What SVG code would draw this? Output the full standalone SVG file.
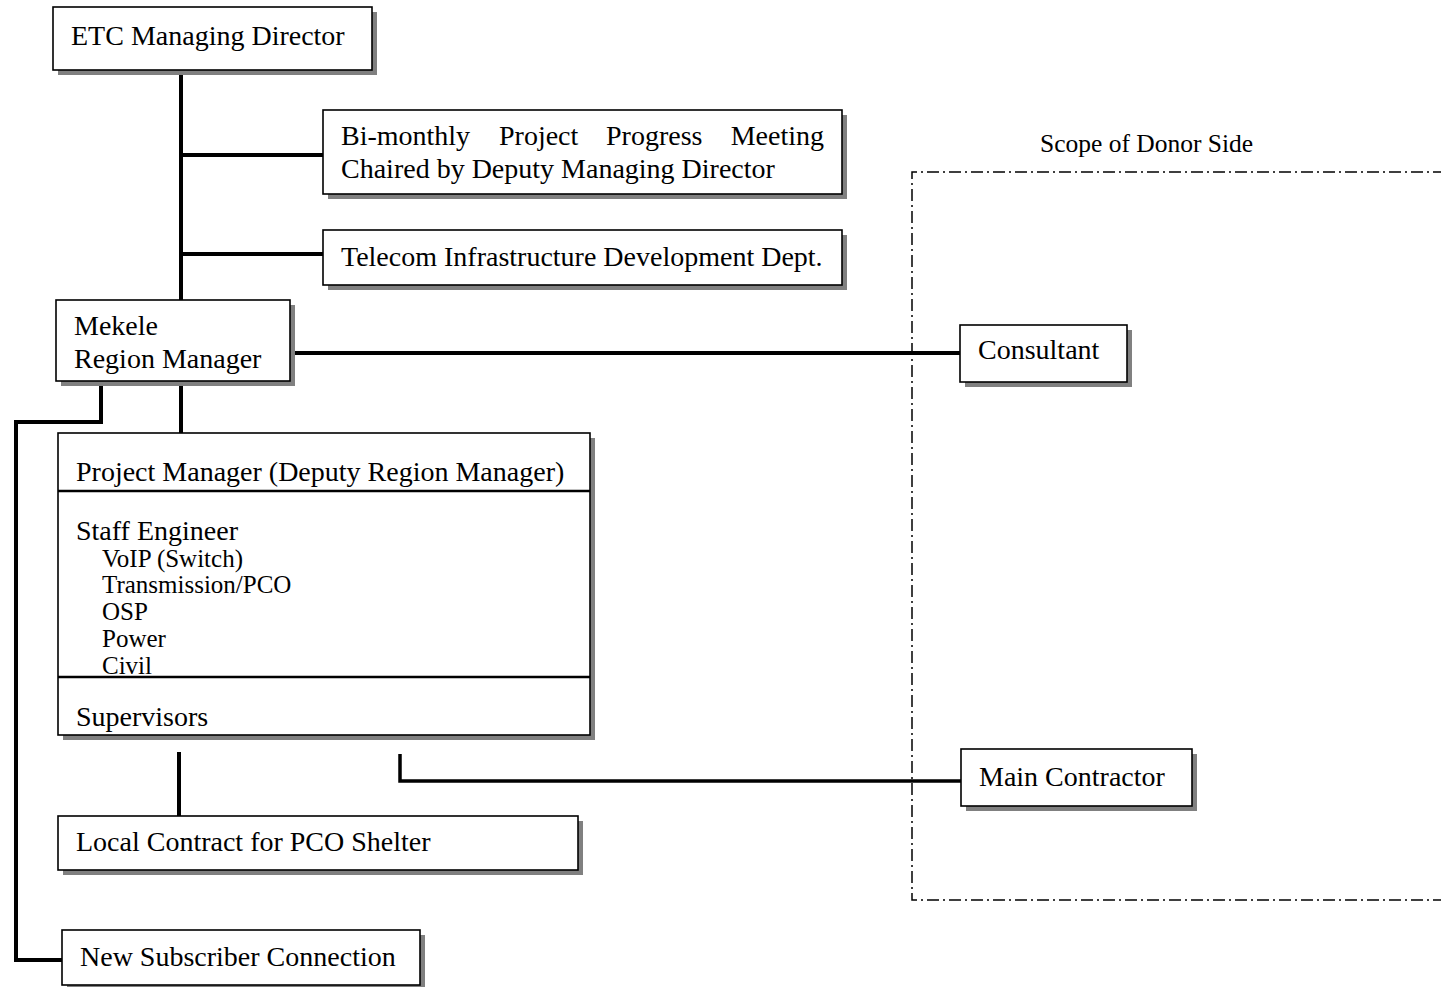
<svg xmlns="http://www.w3.org/2000/svg" width="1441" height="987" viewBox="0 0 1441 987">
  <style>
    .box { fill: #ffffff; stroke: #000000; stroke-width: 1.6; }
    .shadow { fill: #808080; }
    .txt { font-family: "Liberation Serif", "Times New Roman", serif; font-size: 28px; fill: #000000; }
    .sub { font-family: "Liberation Serif", "Times New Roman", serif; font-size: 25px; fill: #000000; }
    .cap { font-family: "Liberation Serif", "Times New Roman", serif; font-size: 25.5px; fill: #000000; }
    .link { fill: none; stroke: #000000; stroke-width: 4; }
    .scope { fill: none; stroke: #000000; stroke-width: 1.5; stroke-dasharray: 12 4 2 4; }
    .divider { stroke: #000000; stroke-width: 2.5; }
  </style>

  <!-- donor-side scope boundary -->
  <g id="scope">
    <path class="scope" d="M1445,172 H912 V900 H1445"/>
    <text class="cap" x="1040" y="152">Scope of Donor Side</text>
  </g>

  <!-- connectors -->
  <g id="connectors">
    <path class="link" d="M181,70 V300"/>
    <path class="link" d="M181,155 H323"/>
    <path class="link" d="M181,254 H323"/>
    <path class="link" d="M290,353 H960"/>
    <path class="link" d="M101,380 V422 H16 V960 H62"/>
    <path class="link" d="M181,380 V443"/>
    <path class="link" d="M179,752 V816"/>
    <path class="link" d="M400,754 V781 H961" style="stroke-width:3.5"/>
  </g>

  <g id="etc-md">
    <rect class="shadow" x="58" y="12" width="319" height="63"/>
    <rect class="box" x="53" y="7" width="319" height="63"/>
    <text class="txt" x="71" y="45">ETC Managing Director</text>
  </g>

  <g id="progress-meeting">
    <rect class="shadow" x="328" y="115" width="519" height="84"/>
    <rect class="box" x="323" y="110" width="519" height="84"/>
    <text class="txt" x="341" y="145">Bi-monthly</text>
    <text class="txt" x="499" y="145">Project</text>
    <text class="txt" x="606" y="145">Progress</text>
    <text class="txt" x="824" y="145" text-anchor="end">Meeting</text>
    <text class="txt" x="341" y="178">Chaired by Deputy Managing Director</text>
  </g>

  <g id="tid-dept">
    <rect class="shadow" x="328" y="235" width="519" height="55"/>
    <rect class="box" x="323" y="230" width="519" height="55"/>
    <text class="txt" x="341" y="266">Telecom Infrastructure Development Dept.</text>
  </g>

  <g id="region-manager">
    <rect class="shadow" x="61" y="305" width="234" height="81"/>
    <rect class="box" x="56" y="300" width="234" height="81"/>
    <text class="txt" x="74" y="335">Mekele</text>
    <text class="txt" x="74" y="368">Region Manager</text>
  </g>

  <g id="consultant">
    <rect class="shadow" x="965" y="330" width="167" height="57"/>
    <rect class="box" x="960" y="325" width="167" height="57"/>
    <text class="txt" x="978" y="359">Consultant</text>
  </g>

  <g id="project-team">
    <rect class="shadow" x="63" y="438" width="532" height="302"/>
    <rect class="box" x="58" y="433" width="532" height="302"/>
    <line class="divider" x1="58" y1="491" x2="590" y2="491"/>
    <line class="divider" x1="58" y1="677" x2="590" y2="677"/>
    <text class="txt" x="76" y="481">Project Manager (Deputy Region Manager)</text>
    <text class="txt" x="76" y="540">Staff Engineer</text>
    <text class="sub" x="102" y="567">VoIP (Switch)</text>
    <text class="sub" x="102" y="593">Transmission/PCO</text>
    <text class="sub" x="102" y="620">OSP</text>
    <text class="sub" x="102" y="647">Power</text>
    <text class="sub" x="102" y="674">Civil</text>
    <text class="txt" x="76" y="726">Supervisors</text>
  </g>

  <g id="main-contractor">
    <rect class="shadow" x="966" y="754" width="231" height="57"/>
    <rect class="box" x="961" y="749" width="231" height="57"/>
    <text class="txt" x="979" y="786">Main Contractor</text>
  </g>

  <g id="local-contract">
    <rect class="shadow" x="63" y="821" width="520" height="54"/>
    <rect class="box" x="58" y="816" width="520" height="54"/>
    <text class="txt" x="76" y="851">Local Contract for PCO Shelter</text>
  </g>

  <g id="new-subscriber">
    <rect class="shadow" x="67" y="935" width="358" height="55"/>
    <rect class="box" x="62" y="930" width="358" height="55"/>
    <text class="txt" x="80" y="966">New Subscriber Connection</text>
  </g>
</svg>
